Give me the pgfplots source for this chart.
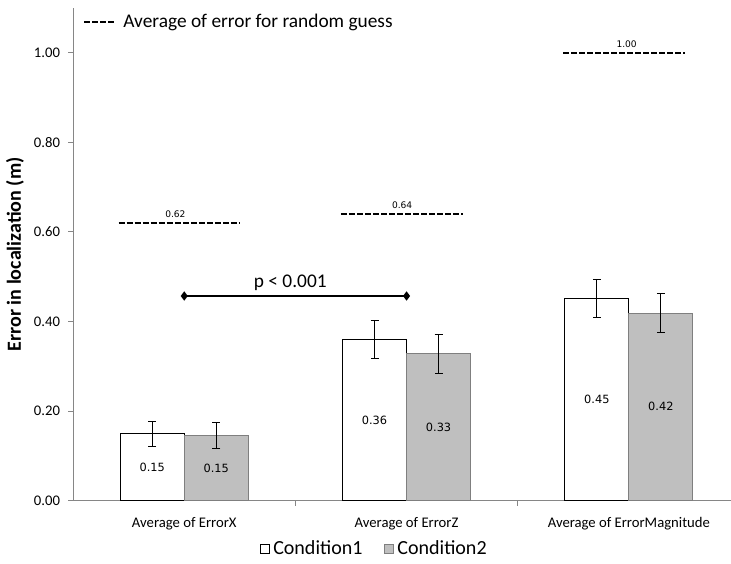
\documentclass[border=0pt]{standalone}
\usepackage{fontspec}
\setmainfont{Carlito}
\newfontfamily\dejavu{DejaVu Sans}
\usepackage{pgfplots}
\usepackage{pgfplotstable}
\pgfplotsset{compat=1.18}
\definecolor{axisgray}{HTML}{868686}
\definecolor{bargray}{HTML}{BFBFBF}
\definecolor{edgegray}{HTML}{7F7F7F}

% category, means, errors, random-guess average
\pgfplotstableread{
x c1    e1    c2    e2    r    l1   l2   rl   rx
0 0.149 0.027 0.145 0.029 0.62 0.15 0.15 0.62 -0.04
1 0.360 0.043 0.328 0.043 0.64 0.36 0.33 0.64 -0.02
2 0.452 0.042 0.419 0.044 1.00 0.45 0.42 1.00 -0.01
}\errdata

\begin{document}
\begin{tikzpicture}
\useasboundingbox (-54.75pt,-47.25pt) rectangle (492.75pt,375pt);
\begin{axis}[
  scale only axis, width=499.5pt, height=369pt,
  xmin=-0.5, xmax=2.5, ymin=0, ymax=1.1,
  axis x line*=bottom, axis y line*=left,
  axis line style={draw=axisgray, line width=0.7pt},
  tick align=outside, major tick length=3.75pt,
  tick style={draw=axisgray, line width=0.7pt},
  ytick={0,0.2,0.4,0.6,0.8,1.0},
  yticklabel style={xshift=-2.5pt, /pgf/number format/.cd, fixed, fixed zerofill, precision=2, assume math mode=true},
  ticklabel style={font=\fontsize{11}{13}\selectfont},
  xtick={0.5,1.5}, xticklabels={},
  extra x ticks={0,1,2},
  extra x tick labels={Average of ErrorX, Average of ErrorZ, Average of ErrorMagnitude},
  extra x tick style={major tick length=0pt, tick style={draw=none},
    xticklabel style={yshift=-9pt}},
  ylabel={\bfseries Error in localization (m)},
  ylabel style={font=\fontsize{15}{18}\selectfont, at={(axis description cs:-0.0871,0.5)}, anchor=center},
  legend style={at={(axis description cs:0.45,-0.0976)}, anchor=center, draw=none, fill=none,
    legend columns=2, font=\fontsize{15}{18}\selectfont, inner sep=0pt,
    nodes={inner sep=0pt},
    /tikz/every even column/.append style={column sep=16pt}},
  legend image code/.code={\draw[#1, line width=0.6pt] (0pt,-3.4pt) rectangle (6.8pt,3.4pt);
    \path (9.5pt,0pt);},
  clip=false,
]
\addplot[ybar, bar width=0.288, bar shift=0pt, fill=white, draw=black, line width=0.7pt,
  error bars/.cd, y dir=both, y explicit,
  error bar style={black, line width=0.6pt},
  error mark options={rotate=90, black, mark size=3pt, line width=0.6pt}]
  table[x expr=\thisrow{x}-0.144, y=c1, y error=e1] {\errdata};
\addlegendentry{Condition1}
\addplot[ybar, bar width=0.288, bar shift=0pt, fill=bargray, draw=edgegray, line width=0.7pt,
  error bars/.cd, y dir=both, y explicit,
  error bar style={black, line width=0.6pt},
  error mark options={rotate=90, black, mark size=3pt, line width=0.6pt}]
  table[x expr=\thisrow{x}+0.144, y=c2, y error=e2] {\errdata};
\addlegendentry{Condition2}

% value labels in the middle of the bars
\addplot[forget plot, draw=none, mark=none, nodes near coords, point meta=explicit symbolic,
  nodes near coords style={anchor=center, font=\dejavu\fontsize{8.5}{10}\selectfont}]
  table[x expr=\thisrow{x}-0.144, y expr=\thisrow{c1}/2, meta=l1] {\errdata};
\addplot[forget plot, draw=none, mark=none, nodes near coords, point meta=explicit symbolic,
  nodes near coords style={anchor=center, font=\dejavu\fontsize{8.5}{10}\selectfont}]
  table[x expr=\thisrow{x}+0.144, y expr=\thisrow{c2}/2, meta=l2] {\errdata};

% random guess averages
\pgfplotsset{rg/.style={forget plot, black, line width=1.5pt, dash pattern=on 4.5pt off 1.5pt}}
\addplot[rg] coordinates {(-0.295,0.62) (0.253,0.62)};
\addplot[rg] coordinates {(0.705,0.64) (1.253,0.64)};
\addplot[rg] coordinates {(1.705,1.00) (2.253,1.00)};
\addplot[forget plot, draw=none, mark=none, nodes near coords, point meta=explicit symbolic,
  nodes near coords style={anchor=south, inner sep=3.5pt, font=\dejavu\fontsize{6.8}{8}\selectfont}]
  table[x expr=\thisrow{x}+\thisrow{rx}, y=r, meta=rl] {\errdata};

% significance bracket
\addplot[forget plot, black, line width=1.6pt, mark=diamond*, mark size=2.2pt]
  coordinates {(0,0.457) (1,0.457)};
\node[font=\fontsize{14.5}{17}\selectfont] at (axis cs:0.477,0.487) {p < 0.001};

% legend for the dashed lines
\draw[black, line width=1.5pt, dash pattern=on 4.5pt off 1.5pt] (axis cs:-0.45,1.068) -- (axis cs:-0.311,1.068);
\node[anchor=west, inner sep=0pt, font=\fontsize{14.5}{17}\selectfont] at (axis cs:-0.275,1.068) {Average of error for random guess};
\end{axis}
\end{tikzpicture}
\end{document}
